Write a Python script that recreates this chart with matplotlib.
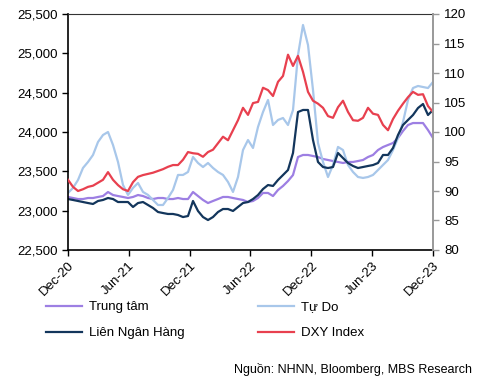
import numpy as np
import pandas as pd
import matplotlib
matplotlib.use('Agg')
import matplotlib.pyplot as plt
import matplotlib.dates as mdates
from matplotlib.ticker import FuncFormatter, MultipleLocator

plt.rcParams['font.family'] = ['Liberation Sans', 'DejaVu Sans']

# ── data (semi-monthly readings, Dec-20 .. Dec-23) ─────────────────
dates = pd.date_range('2020-12-01', '2023-12-01', periods=74)

trung_tam = [23174, 23161, 23148, 23148, 23161, 23161, 23174, 23186, 23237, 23199,
             23186, 23174, 23161, 23174, 23199, 23186, 23161, 23148, 23161, 23161,
             23148, 23148, 23161, 23148, 23148, 23237, 23186, 23136, 23097, 23123,
             23148, 23174, 23174, 23161, 23148, 23136, 23110, 23123, 23161, 23225,
             23225, 23186, 23263, 23314, 23377, 23453, 23682, 23708, 23708, 23695,
             23682, 23657, 23644, 23631, 23619, 23606, 23619, 23619, 23631, 23644,
             23682, 23708, 23771, 23809, 23835, 23860, 23924, 24013, 24089, 24114,
             24114, 24114, 24025, 23924]

tu_do = [23225, 23289, 23390, 23543, 23619, 23708, 23873, 23962, 24000, 23835,
         23619, 23327, 23200, 23289, 23352, 23238, 23200, 23136, 23072, 23072,
         23161, 23263, 23454, 23454, 23492, 23682, 23606, 23555, 23606, 23543,
         23492, 23454, 23365, 23238, 23428, 23771, 23898, 23797, 24064, 24254,
         24407, 24089, 24153, 24178, 24089, 24280, 24979, 25360, 25106, 24534,
         23860, 23619, 23428, 23581, 23810, 23771, 23581, 23492, 23428, 23416,
         23428, 23454, 23517, 23581, 23644, 23771, 23924, 24127, 24407, 24559,
         24585, 24572, 24559, 24636]

lien_ngan_hang = [23148, 23136, 23123, 23110, 23097, 23085, 23123, 23136, 23161, 23148,
                  23110, 23110, 23110, 23047, 23097, 23110, 23072, 23034, 22983, 22970,
                  22958, 22958, 22945, 22919, 22932, 23123, 22996, 22919, 22881, 22919,
                  22983, 23021, 23021, 22996, 23047, 23097, 23110, 23148, 23199, 23275,
                  23326, 23314, 23390, 23453, 23517, 23733, 24254, 24280, 24280, 23898,
                  23619, 23555, 23542, 23555, 23733, 23669, 23606, 23568, 23542, 23555,
                  23568, 23580, 23606, 23708, 23708, 23797, 23962, 24089, 24153, 24216,
                  24305, 24356, 24216, 24280]

dxy = [91.9, 90.7, 90.0, 90.3, 90.7, 90.9, 91.4, 91.9, 93.2, 91.9,
       91.0, 90.3, 90.0, 91.5, 92.4, 92.7, 92.9, 93.1, 93.4, 93.7,
       94.1, 94.4, 94.4, 95.3, 96.6, 96.4, 96.3, 95.8, 96.6, 97.0,
       98.1, 99.2, 98.6, 100.3, 102.0, 104.1, 102.9, 104.9, 105.1, 107.5,
       107.1, 106.1, 108.5, 109.5, 113.1, 111.2, 112.9, 110.2, 106.8, 105.3,
       104.8, 104.1, 102.7, 102.4, 104.2, 105.3, 103.4, 102.0, 101.9, 102.4,
       104.1, 103.1, 102.9, 101.2, 100.3, 102.2, 103.6, 104.8, 105.9, 106.8,
       106.3, 106.4, 104.4, 103.4]

tick_dates = pd.to_datetime(['2020-12-01', '2021-06-01', '2021-12-01', '2022-06-01',
                             '2022-12-01', '2023-06-01', '2023-12-01'])

c_purple = '#9d7fe3'
c_light = '#a8c7ea'
c_navy = '#13365c'
c_red = '#e8404f'

# ── plot ───────────────────────────────────────────────────────────
fig = plt.figure(figsize=(4.82, 3.85), dpi=100)
ax = fig.add_axes([68 / 482, 1 - 250 / 385, 365 / 482, 236 / 385])
ax2 = ax.twinx()

lw = 1.6
l1, = ax.plot(dates, trung_tam, color=c_purple, lw=lw, label='Trung tâm')
l2, = ax.plot(dates, tu_do, color=c_light, lw=lw, label='Tự Do')
l3, = ax.plot(dates, lien_ngan_hang, color=c_navy, lw=lw, label='Liên Ngân Hàng')
l4, = ax2.plot(dates, dxy, color=c_red, lw=lw, label='DXY Index')

ax.set_xlim(dates[0], dates[-1])
ax.set_ylim(22500, 25500)
ax.yaxis.set_major_locator(MultipleLocator(500))
ax.yaxis.set_major_formatter(FuncFormatter(lambda v, p: f'{v:,.0f}'))
ax2.set_ylim(80, 120)
ax2.yaxis.set_major_locator(MultipleLocator(5))

ax.set_xticks(tick_dates)
ax.set_xticklabels([d.strftime('%b-%y') for d in tick_dates], rotation=45,
                   ha='right', rotation_mode='anchor')

for a in (ax, ax2):
    a.tick_params(labelsize=9.5, length=4, width=1.0, direction='out')
ax.tick_params(axis='x', pad=3)
ax.tick_params(axis='y', pad=3)
ax2.tick_params(axis='y', colors='#999999', labelcolor='black', pad=4)

for s in ('left', 'bottom'):
    ax.spines[s].set_linewidth(1.2)
ax.spines['top'].set_linewidth(0.8)
ax.spines['top'].set_color('#333333')
ax2.spines['top'].set_visible(False)
ax2.spines['left'].set_visible(False)
ax2.spines['bottom'].set_visible(False)
ax2.spines['right'].set_color('#999999')
ax2.spines['right'].set_linewidth(1.4)
ax.spines['right'].set_visible(False)

fig.legend([l1, l3, l2, l4], ['Trung tâm', 'Liên Ngân Hàng', 'Tự Do', 'DXY Index'],
           ncol=2, loc='upper left', bbox_to_anchor=(46 / 482, 1 - 301 / 385),
           frameon=False, fontsize=9.5, handlelength=2.7, handletextpad=0.55,
           columnspacing=5.6, labelspacing=1.05, borderaxespad=0, borderpad=0)

fig.text(472 / 482, 1 - 369 / 385, 'Nguồn: NHNN, Bloomberg, MBS Research',
         ha='right', va='center', fontsize=9)

fig.savefig('out.png', dpi=100)
